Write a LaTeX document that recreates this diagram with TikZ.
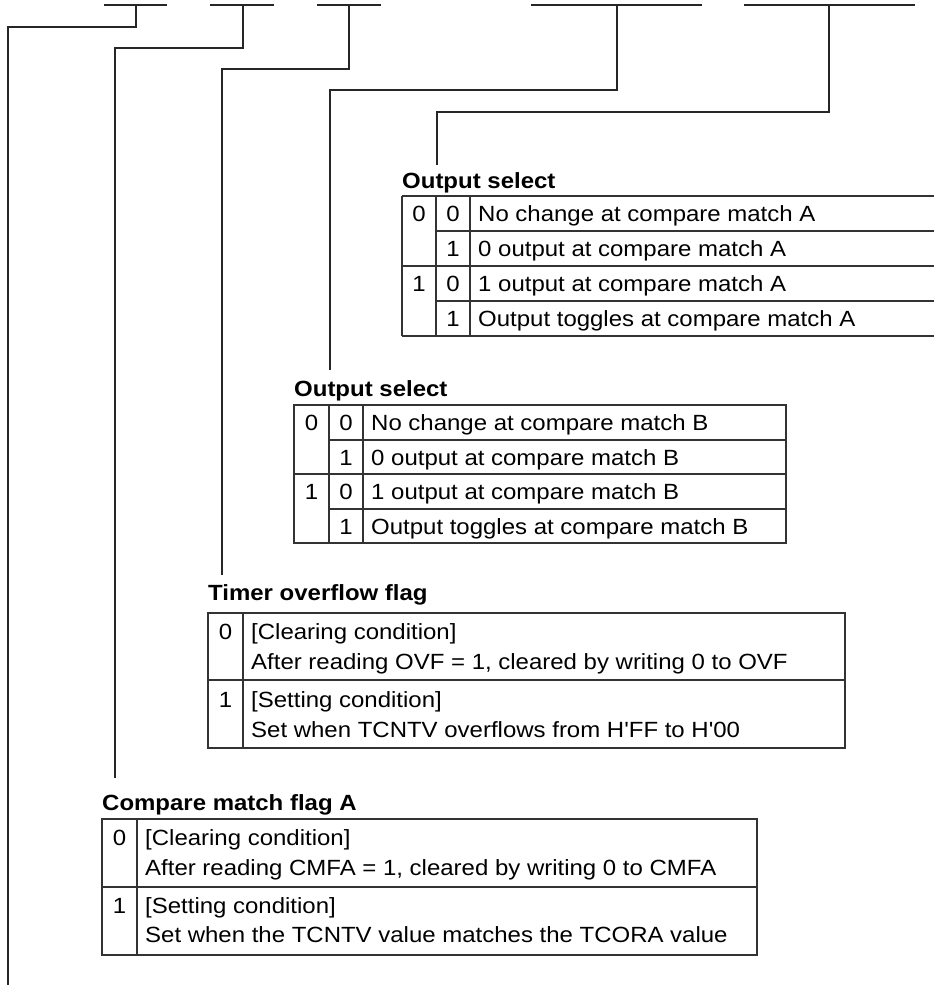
\documentclass[tikz,border=0pt]{standalone}
\usepackage{fontspec}
\newfontfamily\reffont{Liberation Sans}[FakeStretch=1.09]
\begin{document}
\begin{tikzpicture}[x=1pt,y=-1pt,
  rule/.style={line width=1.1pt, draw=black!85},
  tline/.style={line width=1.1pt, draw=black!80},
  txt/.style={anchor=base west, inner sep=0pt, font=\reffont\fontsize{22}{26}\selectfont},
  dig/.style={anchor=base, inner sep=0pt, font=\reffont\fontsize{22}{26}\selectfont},
  ttl/.style={anchor=base west, inner sep=0pt, font=\reffont\fontsize{22}{26}\selectfont\bfseries}]
\useasboundingbox (0,0) rectangle (934,986);
% bit bars
\draw[rule] (104,5) -- (167,5);
\draw[rule] (210,5) -- (274,5);
\draw[rule] (317,5) -- (381,5);
\draw[rule] (531,5) -- (702,5);
\draw[rule] (744,5) -- (915,5);
\coordinate (b1) at (136,5);
\coordinate (b2) at (243,5);
\coordinate (b3) at (349,5);
\coordinate (b4) at (617,5);
\coordinate (b5) at (829,5);
\coordinate (e1) at (8,985);
\coordinate (e2) at (115,778);
\coordinate (e3) at (222,575);
\coordinate (e4) at (330,370);
\coordinate (e5) at (437,165);
\draw[rule] (b1) -- ++(0,22) -| (e1);
\draw[rule] (b2) -- ++(0,43) -| (e2);
\draw[rule] (b3) -- ++(0,64) -| (e3);
\draw[rule] (b4) -- ++(0,85) -| (e4);
\draw[rule] (b5) -- ++(0,107) -| (e5);

% ---- Table A ----
\node[ttl] (tA) at (402,188) {Output select};
\draw[tline] (402,196) -- (934,196);
\draw[tline] (436,231) -- (934,231);
\draw[tline] (402,266) -- (934,266);
\draw[tline] (436,301) -- (934,301);
\draw[tline] (402,336) -- (934,336);
\draw[tline] (402,196) -- (402,336);
\draw[tline] (436,196) -- (436,336);
\draw[tline] (470,196) -- (470,336);
\node[dig] (a11) at (419,221) {0};
\node[dig] (a31) at (419,291) {1};
\node[dig] (a12) at (453,221) {0};
\node[dig] (a22) at (453,256) {1};
\node[dig] (a32) at (453,291) {0};
\node[dig] (a42) at (453,326) {1};
\node[txt] (a13) at (478,221) {No change at compare match A};
\node[txt] (a23) at (478,256) {0 output at compare match A};
\node[txt] (a33) at (478,291) {1 output at compare match A};
\node[txt] (a43) at (478,326) {Output toggles at compare match A};

% ---- Table B ----
\node[ttl] (tB) at (294,396) {Output select};
\draw[tline] (294,405) rectangle (786,543);
\draw[tline] (329,440) -- (786,440);
\draw[tline] (294,474) -- (786,474);
\draw[tline] (329,509) -- (786,509);
\draw[tline] (329,405) -- (329,543);
\draw[tline] (363,405) -- (363,543);
\node[dig] (b11) at (311.5,430) {0};
\node[dig] (b31) at (311.5,499) {1};
\node[dig] (b12) at (346,430) {0};
\node[dig] (b22) at (346,465) {1};
\node[dig] (b32) at (346,499) {0};
\node[dig] (b42) at (346,534) {1};
\node[txt] (b13) at (371,430) {No change at compare match B};
\node[txt] (b23) at (371,465) {0 output at compare match B};
\node[txt] (b33) at (371,499) {1 output at compare match B};
\node[txt] (b43) at (371,534) {Output toggles at compare match B};

% ---- Table C ----
\node[ttl] (tC) at (208,600) {Timer overflow flag};
\draw[tline] (208,613) rectangle (845,748);
\draw[tline] (208,680) -- (845,680);
\draw[tline] (243,613) -- (243,748);
\node[dig] (c1) at (225.5,639) {0};
\node[txt] (c1a) at (251,639) {[Clearing condition]};
\node[txt] (c1b) at (251,669) {After reading OVF = 1, cleared by writing 0 to OVF};
\node[dig] (c2) at (225.5,707) {1};
\node[txt] (c2a) at (251,707) {[Setting condition]};
\node[txt] (c2b) at (251,737) {Set when TCNTV overflows from H'FF to H'00};

% ---- Table D ----
\node[ttl] (tD) at (102,810) {Compare match flag A};
\draw[tline] (102,819) rectangle (757,955);
\draw[tline] (102,887) -- (757,887);
\draw[tline] (137,819) -- (137,955);
\node[dig] (d1) at (119.5,845) {0};
\node[txt] (d1a) at (145,845) {[Clearing condition]};
\node[txt] (d1b) at (145,875) {After reading CMFA = 1, cleared by writing 0 to CMFA};
\node[dig] (d2) at (119.5,913) {1};
\node[txt] (d2a) at (145,913) {[Setting condition]};
\node[txt] (d2b) at (145,942) {Set when the TCNTV value matches the TCORA value};
\end{tikzpicture}
\end{document}
